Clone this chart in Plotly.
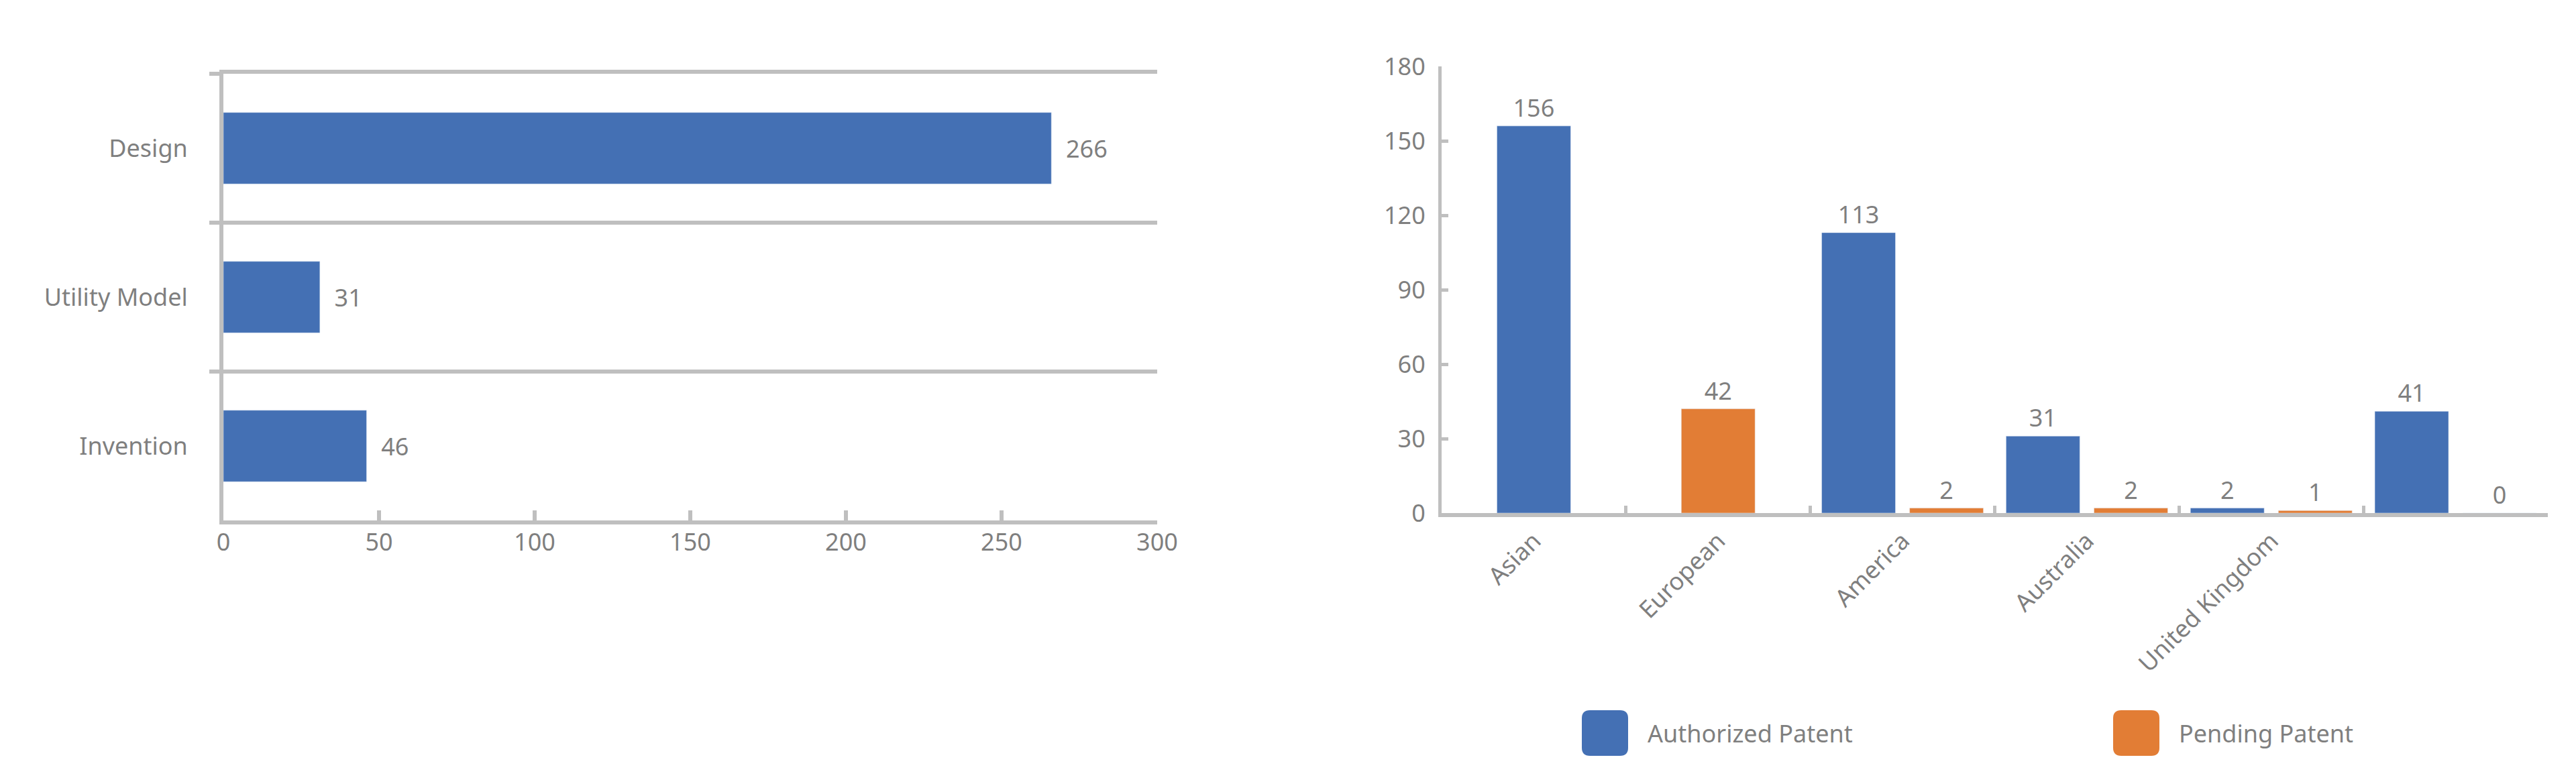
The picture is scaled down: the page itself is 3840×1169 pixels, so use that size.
import plotly.graph_objects as go

# left chart: patents by type
type_names = ["Design", "Utility Model", "Invention"]
type_counts = [266, 31, 46]
count_ticks = [0, 50, 100, 150, 200, 250, 300]

# right chart: patents by region (last category has no label in the source)
regions = ["Asian", "European", "America", "Australia", "United Kingdom", " "]
authorized = [156, None, 113, 31, 2, 41]
pending = [None, 42, 2, 2, 1, 0]
region_ticks = [0, 30, 60, 90, 120, 150, 180]
series_names = ["Authorized Patent", "Pending Patent"]

W, H = 3840, 1169
BLUE = "#4470b4"
ORANGE = "#e27d35"
GREY = "#bfbfbf"
TEXT = "#7f7f7f"
FONT = "Noto Sans"
FS = 36

BAR_W = 0.40
BAR_GAP = 0.077


def bar_offsets(a, b):
    """Pair bars side by side, centre a bar when its partner is missing."""
    off_a, off_b = [], []
    for va, vb in zip(a, b):
        if va is not None and vb is not None:
            off_a.append(-BAR_W - BAR_GAP / 2)
            off_b.append(BAR_GAP / 2)
        else:
            off_a.append(-BAR_W / 2)
            off_b.append(-BAR_W / 2)
    return off_a, off_b


def px_x(v):
    return v / W


def px_y(v):
    return 1 - v / H


def rounded_square(x0, y0, x1, y1, r):
    pts = [
        ("M", x0 + r, y0), ("L", x1 - r, y0), ("Q", x1, y0, x1, y0 + r),
        ("L", x1, y1 - r), ("Q", x1, y1, x1 - r, y1), ("L", x0 + r, y1),
        ("Q", x0, y1, x0, y1 - r), ("L", x0, y0 + r), ("Q", x0, y0, x0 + r, y0),
    ]
    parts = []
    for p in pts:
        cmd, coords = p[0], p[1:]
        xy = []
        for i in range(0, len(coords), 2):
            xy.append(f"{px_x(coords[i]):.6f},{px_y(coords[i + 1]):.6f}")
        parts.append(cmd + " ".join(xy))
    return " ".join(parts) + " Z"


off_auth, off_pend = bar_offsets(authorized, pending)

fig = go.Figure()
fig.add_trace(
    go.Bar(
        x=type_counts,
        y=type_names,
        orientation="h",
        width=0.48,
        marker_color=BLUE,
        texttemplate="\u00a0\u00a0%{x}",
        textposition="outside",
        textfont=dict(size=FS, color=TEXT, family=FONT),
        cliponaxis=False,
        xaxis="x",
        yaxis="y",
        showlegend=False,
    )
)
fig.add_trace(
    go.Bar(
        x=regions,
        y=authorized,
        name=series_names[0],
        width=BAR_W,
        offset=off_auth,
        marker_color=BLUE,
        text=authorized,
        textposition="outside",
        textfont=dict(size=FS, color=TEXT, family=FONT),
        cliponaxis=False,
        xaxis="x2",
        yaxis="y2",
        showlegend=False,
    )
)
fig.add_trace(
    go.Bar(
        x=regions,
        y=pending,
        name=series_names[1],
        width=BAR_W,
        offset=off_pend,
        marker_color=ORANGE,
        text=pending,
        textposition="outside",
        textfont=dict(size=FS, color=TEXT, family=FONT),
        cliponaxis=False,
        xaxis="x2",
        yaxis="y2",
        showlegend=False,
    )
)

line_style = dict(showline=True, linecolor=GREY, zeroline=False, tickcolor=GREY,
                  automargin=False, tickfont=dict(size=FS, color=TEXT, family=FONT))

fig.update_layout(
    width=W,
    height=H,
    margin=dict(l=0, r=0, t=0, b=0),
    paper_bgcolor="white",
    plot_bgcolor="white",
    barmode="overlay",
    font=dict(family=FONT, size=FS, color=TEXT),
    xaxis=dict(
        domain=[px_x(325), px_x(1717)],
        anchor="y",
        range=[0, 300],
        tickvals=count_ticks,
        ticks="inside",
        ticklen=15,
        tickwidth=6,
        linewidth=6,
        mirror=True,
        showgrid=False,
        ticklabelstandoff=-4,
        **line_style,
    ),
    yaxis=dict(
        domain=[px_y(768), px_y(102)],
        anchor="x",
        type="category",
        autorange="reversed",
        tickson="boundaries",
        ticks="outside",
        ticklen=15,
        tickwidth=6,
        linewidth=6,
        showgrid=True,
        gridcolor=GREY,
        gridwidth=6,
        ticklabelstandoff=40,
        **line_style,
    ),
    xaxis2=dict(
        domain=[px_x(2141), px_x(3790)],
        anchor="y2",
        type="category",
        tickson="boundaries",
        ticks="inside",
        ticklen=11,
        tickwidth=5,
        linewidth=6,
        tickangle=-45,
        showgrid=False,
        **line_style,
    ),
    yaxis2=dict(
        domain=[px_y(757), px_y(91)],
        anchor="x2",
        range=[0, 180],
        tickvals=region_ticks,
        ticks="inside",
        ticklen=10,
        tickwidth=5,
        linewidth=5,
        showgrid=False,
        ticklabelstandoff=12,
        **line_style,
    ),
)

# legend for the right chart, drawn as large rounded swatches
legend_items = [(series_names[0], BLUE, 2350), (series_names[1], ORANGE, 3142)]
for label, colour, left in legend_items:
    fig.add_shape(
        type="path",
        xref="paper",
        yref="paper",
        path=rounded_square(left, 1051, left + 69, 1119, 12),
        fillcolor=colour,
        line=dict(width=0),
    )
    fig.add_annotation(
        x=px_x(left + 96),
        y=px_y(1085),
        xref="paper",
        yref="paper",
        text=label,
        showarrow=False,
        xanchor="left",
        yanchor="middle",
        font=dict(size=FS, color=TEXT, family=FONT),
    )

fig.write_html("out.html")
